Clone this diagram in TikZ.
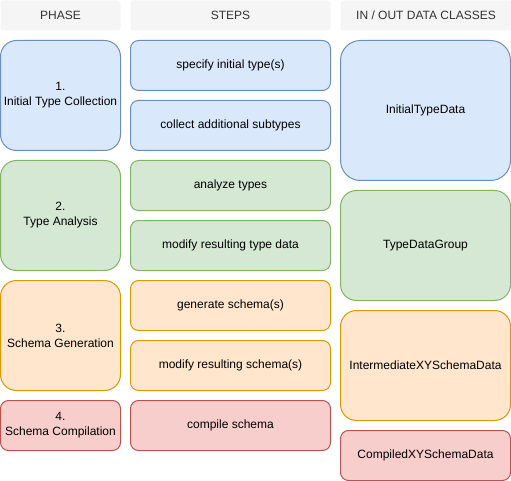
\documentclass[tikz,border=0pt]{standalone}
\usepackage{fontspec}
\setmainfont{Liberation Sans}
\usepackage{tikz}

\definecolor{hdrF}{HTML}{F5F5F5}
\definecolor{hdrT}{HTML}{333333}
\definecolor{bluF}{HTML}{DAE8FC}
\definecolor{bluD}{HTML}{6C8EBF}
\definecolor{grnF}{HTML}{D5E8D4}
\definecolor{grnD}{HTML}{82B366}
\definecolor{orgF}{HTML}{FFE6CC}
\definecolor{orgD}{HTML}{D79B00}
\definecolor{redF}{HTML}{F8CECC}
\definecolor{redD}{HTML}{B85450}

\begin{document}
\begin{tikzpicture}[x=1pt,y=-1pt,font=\fontsize{12}{15}\selectfont,line width=1pt,
box/.style n args={4}{draw=#1D,fill=#1F,minimum width=#2,minimum height=#3,rounded corners=#4,rectangle,anchor=north west,align=center,inner sep=0pt},
hdr/.style={fill=hdrF,text=hdrT,minimum height=30pt,rounded corners=3pt,rectangle,anchor=north west,inner sep=0pt}]
\useasboundingbox (0,0) rectangle (511,481);
% column headers
\node[hdr,minimum width=120pt] (hphase) at (0,0) {PHASE};
\node[hdr,minimum width=200pt] (hsteps) at (130,0) {STEPS};
\node[hdr,minimum width=171pt] (hdata) at (340,0) {IN / OUT DATA CLASSES};
% phases
\node[box={blu}{120pt}{110pt}{16pt}] (ph1) at (0,40) {1.\\Initial Type Collection};
\node[box={grn}{120pt}{110pt}{16pt}] (ph2) at (0,160) {2.\\Type Analysis};
\node[box={org}{120pt}{110pt}{16pt}] (ph3) at (0,280) {3.\\Schema Generation};
\node[box={red}{120pt}{50pt}{8pt}] (ph4) at (0,400) {4.\\Schema Compilation};
% steps
\foreach \y/\c/\t [count=\i] in %
{40/blu/specify initial type(s),100/blu/collect additional subtypes,
 160/grn/analyze types,220/grn/modify resulting type data,
 280/org/generate schema(s),340/org/modify resulting schema(s),
 400/red/compile schema} {
   \node[box={\c}{200pt}{50pt}{8pt}] (st\i) at (130,\y) {\t};
}
% data classes
\node[box={blu}{170pt}{140pt}{20pt}] (dat1) at (340,40) {InitialTypeData};
\node[box={grn}{170pt}{110pt}{16pt}] (dat2) at (340,190) {TypeDataGroup};
\node[box={org}{170pt}{110pt}{16pt}] (dat3) at (340,310) {IntermediateXYSchemaData};
\node[box={red}{170pt}{50pt}{8pt}] (dat4) at (340,430) {CompiledXYSchemaData};
\end{tikzpicture}
\end{document}
